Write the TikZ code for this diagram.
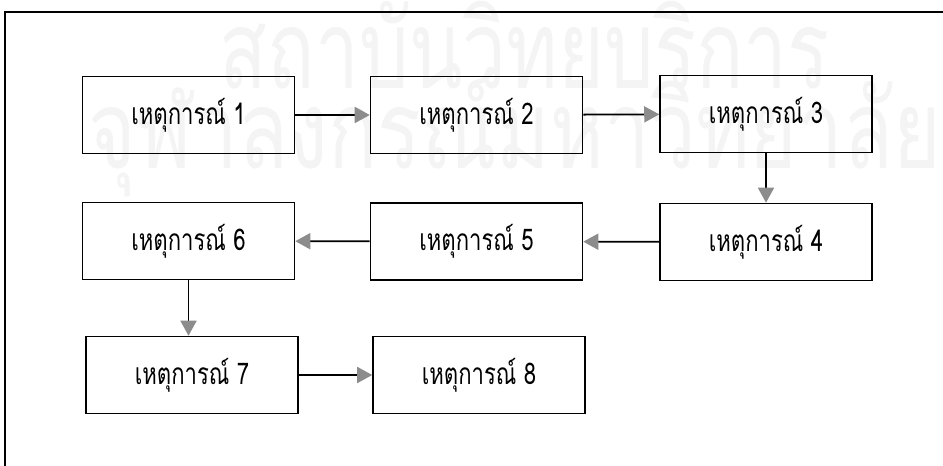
\documentclass[tikz,border=0pt]{standalone}
\usepackage{fontspec}
\newfontfamily\thaifont[Script=Thai,FakeStretch=0.74]{Loma}
\newfontfamily\markfont[Script=Thai]{Loma}
\usetikzlibrary{arrows.meta}
\definecolor{tipgray}{RGB}{140,140,140}
\definecolor{wmark}{RGB}{244,244,244}

\begin{document}
\begin{tikzpicture}[x=0.02cm,y=-0.02cm,
  evbox/.style={draw,line width=0.9pt,minimum width=4.24cm,minimum height=1.54cm,
    font=\thaifont\fontsize{17}{20}\selectfont},
  flow/.style={-{Triangle[length=0.3cm,width=0.32cm,color=tipgray]},line width=1pt},
  wm/.style={text=wmark,font=\markfont\fontsize{62}{62}\selectfont,xscale=0.72,transform shape}]
\useasboundingbox (0,0) rectangle (943,466);
\node[wm] (mark1) at (525,45) {สถาบันวิทยบริการ};
\node[wm,xscale=1.04] (mark2) at (515,135) {จุฬาลงกรณ์มหาวิทยาลัย};
\draw[line width=1pt] (5,466) -- (5,12) -- (943,12);
\node[evbox] (e1) at (188.5,115) {เหตุการณ์ 1};
\node[evbox] (e2) at (476.5,115) {เหตุการณ์ 2};
\node[evbox] (e3) at (766,114) {เหตุการณ์ 3};
\node[evbox] (e4) at (766,242) {เหตุการณ์ 4};
\node[evbox] (e5) at (476.5,241.5) {เหตุการณ์ 5};
\node[evbox] (e6) at (188.5,241) {เหตุการณ์ 6};
\node[evbox] (e7) at (192,375) {เหตุการณ์ 7};
\node[evbox] (e8) at (479,375) {เหตุการณ์ 8};
\draw[flow] (e1) -- (e2);
\draw[flow] (e2) -- (e3);
\draw[flow] (e3) -- (e4);
\draw[flow] (e4) -- (e5);
\draw[flow] (e5) -- (e6);
\draw[flow] (e6.south) -- (e6.south |- e7.north);
\draw[flow] (e7) -- (e8);
\end{tikzpicture}
\end{document}
